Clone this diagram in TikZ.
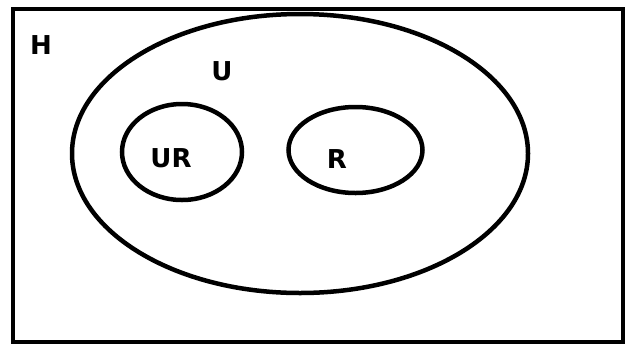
\documentclass[tikz,border=0pt]{standalone}
\usepackage{fontspec}
\setmainfont{DejaVu Sans}
\usepackage{tikz}
\usetikzlibrary{shapes.geometric,positioning}
\tikzset{
  set line/.style={draw=black,line width=4.5pt},
  set ring/.style={set line,ellipse,inner sep=0pt},
  set label/.style={font=\fontsize{26}{28}\selectfont\bfseries,inner sep=0pt,anchor=base}
}

\begin{document}
\begin{tikzpicture}[x=1pt,y=-1pt]
\useasboundingbox (0,0) rectangle (636,349);
\node[set line,rectangle,minimum width=610pt,minimum height=333pt] (h) at (318,175.5) {};
\node[set ring,minimum width=456pt,minimum height=279pt] (u) at (300,153.5) {};
\node[set ring,minimum width=120pt,minimum height=96pt] (ur) at (182,152) {};
\node[set ring,minimum width=134pt,minimum height=86pt] (r) at (355.5,150) {};
\node[set label] (hlab) at (41,54) {H};
\node[set label] (ulab) at (222,80) {U};
\node[set label] (urlab) at (171,167) {UR};
\node[set label] (rlab) at (337,168) {R};
\end{tikzpicture}
\end{document}
